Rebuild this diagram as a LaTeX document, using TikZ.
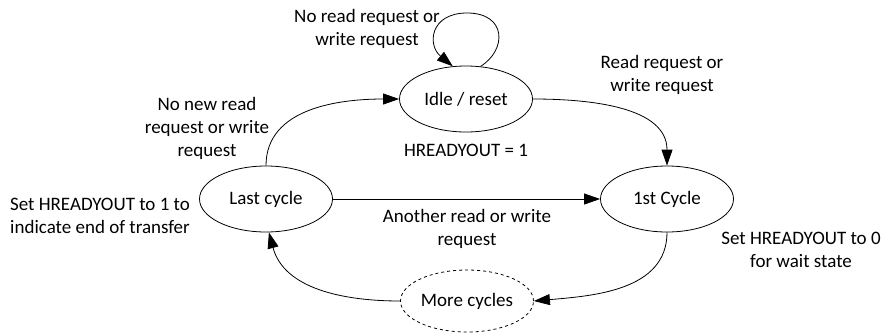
\documentclass[tikz,border=0pt]{standalone}
\usepackage{fontspec}
\setmainfont{Carlito}
\usetikzlibrary{shapes.geometric,arrows.meta}
\begin{document}
\begin{tikzpicture}[x=1pt,y=1pt,
  state/.style={ellipse,draw,line width=0.8pt,inner sep=0pt,minimum width=133pt,minimum height=66pt,font=\fontsize{19}{23}\selectfont},
  lbl/.style={align=center,inner sep=0pt,font=\fontsize{19}{23}\selectfont},
  arr/.style={line width=0.8pt,-{Triangle[length=16pt,width=11pt]}}]
\useasboundingbox (0,0) rectangle (883,-333);
\node[state] (idle) at (466,-99) {Idle / reset};
\node[state] (last) at (266,-199) {Last cycle};
\node[state] (first) at (667,-199) {1st Cycle};
\node[state,dashed,minimum height=62pt] (more) at (467,-301) {More cycles};
\coordinate (looptop) at (467,-13);
\draw[arr] (idle.66) .. controls (507,-50) and (507,-13) .. (looptop) .. controls (430,-13) and (427,-45) .. (idle.112);
\draw[arr] (last.north) to[out=90,in=180] (idle.west);
\draw[arr] (idle.east) to[out=0,in=90] (first.north);
\draw[arr] (last.east) -- (first.west);
\draw[arr] (first.south) to[out=-90,in=5] (more.east);
\draw[arr] (more.west) to[out=180,in=-75] (last.-85);
\node[lbl] (lloop) at (367,-29) {No read request or\\write request};
\node[lbl] (lread) at (662,-75) {Read request or\\write request};
\node[lbl] (lnonew) at (207,-128) {No new read\\request or write\\request};
\node[lbl] (lhr1) at (466,-150) {HREADYOUT = 1};
\node[lbl] (lanother) at (467,-229) {Another read or write\\request};
\node[lbl] (lset0) at (801,-250) {Set HREADYOUT to 0\\for wait state};
\node[lbl] (lset1) at (100,-216) {Set HREADYOUT to 1 to\\indicate end of transfer};
\end{tikzpicture}
\end{document}
